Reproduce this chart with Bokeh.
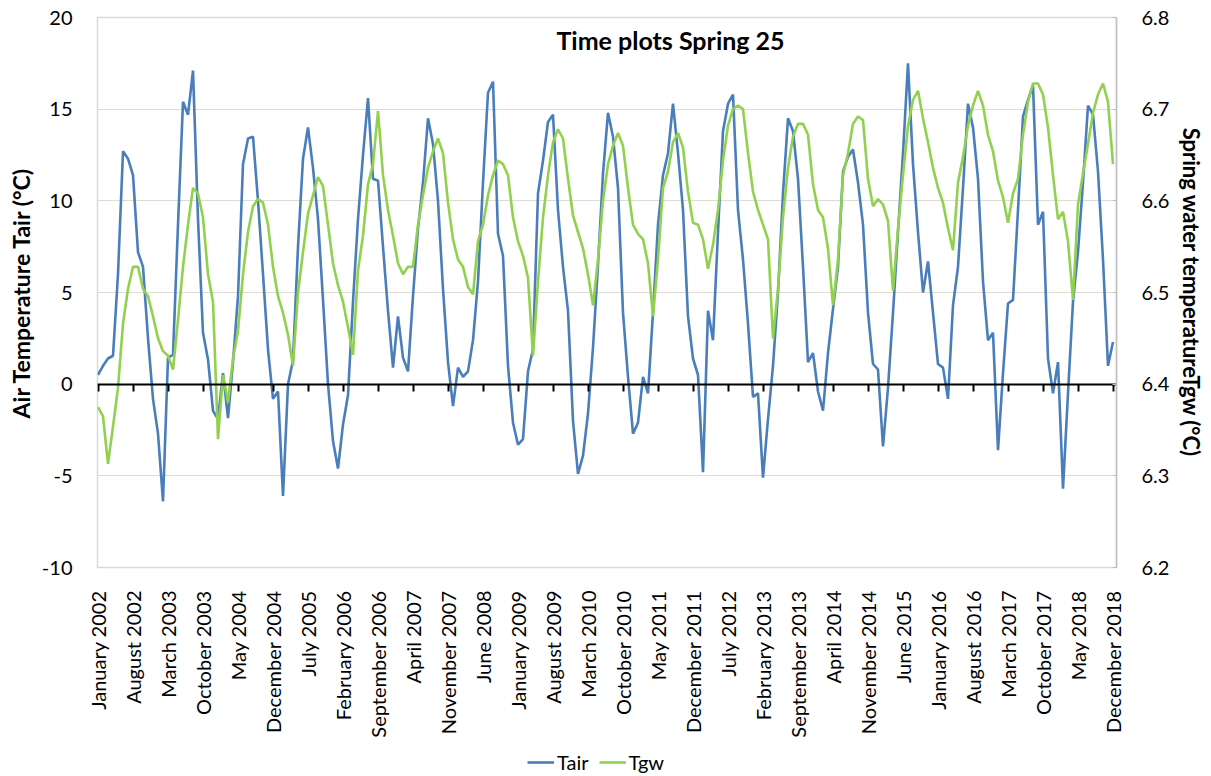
from math import pi
from bokeh.plotting import figure
from bokeh.layouts import column
from bokeh.models import (Range1d, LinearAxis, FixedTicker, Label, Legend, LegendItem,
                          NumeralTickFormatter)
from bokeh.embed import file_html
from bokeh.resources import INLINE

# Monthly series, January 2002 .. December 2018 (204 months)
tair = [0.5, 1.0, 1.4, 1.55, 6.0, 12.7, 12.3, 11.4, 7.2, 6.4, 2.5, -0.8,
        -2.7, -6.4, 1.45, 1.6, 8.7, 15.4, 14.7, 17.1, 9.0, 2.8, 1.35, -1.45,
        -1.9, 0.6, -1.85, 1.2, 4.8, 12.0, 13.4, 13.5, 10.0, 6.0, 1.9, -0.8,
        -0.4, -6.1, 0.0, 1.3, 7.5, 12.3, 14.0, 11.8, 9.0, 4.6, 0.0, -3.1,
        -4.6, -2.2, -0.6, 4.5, 9.0, 12.5, 15.6, 11.2, 11.1, 7.5, 4.0, 0.9,
        3.7, 1.45, 0.7, 4.8, 8.5, 11.0, 14.5, 13.1, 10.0, 5.2, 1.2, -1.2,
        0.9, 0.4, 0.7, 2.4, 5.6, 11.0, 15.9, 16.5, 8.2, 7.0, 1.0, -2.1,
        -3.3, -3.0, 0.7, 1.9, 10.4, 12.2, 14.3, 14.7, 9.5, 6.4, 4.0, -2.0,
        -4.9, -3.9, -1.6, 2.0, 6.5, 11.5, 14.8, 13.5, 10.7, 3.9, 0.4, -2.7,
        -2.1, 0.4, -0.5, 3.9, 8.7, 11.4, 12.6, 15.3, 12.6, 9.5, 3.7, 1.4,
        0.5, -4.8, 4.0, 2.4, 8.3, 13.8, 15.3, 15.8, 9.5, 6.8, 3.3, -0.7,
        -0.5, -5.1, -1.9, 1.0, 5.0, 10.4, 14.5, 13.8, 11.2, 6.4, 1.2, 1.7,
        -0.4, -1.45, 1.7, 4.1, 6.4, 11.6, 12.4, 12.8, 11.0, 8.7, 3.9, 1.1,
        0.8, -3.4, -0.2, 3.9, 8.3, 12.6, 17.5, 12.0, 8.3, 5.0, 6.7, 3.9,
        1.1, 0.9, -0.8, 4.3, 6.4, 10.7, 15.3, 14.0, 11.2, 5.6, 2.4, 2.8,
        -3.6, 0.6, 4.4, 4.6, 9.5, 14.6, 15.5, 16.3, 8.7, 9.4, 1.4, -0.5,
        1.2, -5.7, -0.5, 4.5, 7.2, 11.0, 15.2, 14.7, 11.6, 6.8, 1.0, 2.3]

tgw = [6.375, 6.365, 6.313, 6.354, 6.396, 6.466, 6.504, 6.528, 6.528, 6.504, 6.496, 6.474,
       6.450, 6.436, 6.431, 6.416, 6.470, 6.528, 6.574, 6.614, 6.608, 6.582, 6.520, 6.490,
       6.340, 6.410, 6.380, 6.428, 6.458, 6.520, 6.566, 6.594, 6.602, 6.598, 6.574, 6.528,
       6.496, 6.478, 6.454, 6.420, 6.500, 6.544, 6.586, 6.606, 6.626, 6.616, 6.574, 6.532,
       6.508, 6.490, 6.462, 6.432, 6.524, 6.562, 6.618, 6.640, 6.698, 6.628, 6.590, 6.562,
       6.532, 6.520, 6.528, 6.528, 6.574, 6.606, 6.636, 6.654, 6.668, 6.652, 6.598, 6.558,
       6.536, 6.528, 6.506, 6.498, 6.556, 6.574, 6.606, 6.628, 6.644, 6.640, 6.628, 6.582,
       6.556, 6.540, 6.516, 6.431, 6.512, 6.582, 6.628, 6.664, 6.678, 6.668, 6.624, 6.584,
       6.566, 6.548, 6.520, 6.486, 6.536, 6.600, 6.640, 6.660, 6.674, 6.660, 6.614, 6.574,
       6.564, 6.558, 6.532, 6.474, 6.536, 6.614, 6.632, 6.664, 6.674, 6.658, 6.610, 6.576,
       6.574, 6.558, 6.526, 6.552, 6.590, 6.644, 6.682, 6.700, 6.704, 6.700, 6.652, 6.610,
       6.590, 6.574, 6.558, 6.450, 6.504, 6.582, 6.636, 6.670, 6.684, 6.684, 6.672, 6.618,
       6.590, 6.582, 6.548, 6.486, 6.536, 6.628, 6.652, 6.684, 6.692, 6.688, 6.624, 6.594,
       6.602, 6.596, 6.578, 6.502, 6.570, 6.628, 6.682, 6.710, 6.720, 6.690, 6.664, 6.636,
       6.614, 6.598, 6.570, 6.546, 6.620, 6.648, 6.682, 6.704, 6.720, 6.704, 6.672, 6.654,
       6.622, 6.604, 6.576, 6.608, 6.624, 6.672, 6.708, 6.728, 6.728, 6.716, 6.680, 6.628,
       6.580, 6.588, 6.556, 6.492, 6.596, 6.630, 6.662, 6.696, 6.716, 6.728, 6.708, 6.640]

month_idx = list(range(len(tair)))

tick_labels = ["January 2002", "August 2002", "March 2003", "October 2003", "May 2004",
               "December 2004", "July 2005", "February 2006", "September 2006", "April 2007",
               "November 2007", "June 2008", "January 2009", "August 2009", "March 2010",
               "October 2010", "May 2011", "December 2011", "July 2012", "February 2013",
               "September 2013", "April 2014", "November 2014", "June 2015", "January 2016",
               "August 2016", "March 2017", "October 2017", "May 2018", "December 2018"]
tick_step = 7
tick_pos = [i * tick_step for i in range(len(tick_labels))]

left_ticks = [-10, -5, 0, 5, 10, 15, 20]
right_ticks = [6.2, 6.3, 6.4, 6.5, 6.6, 6.7, 6.8]
series_names = ["Tair", "Tgw"]

FONT = "Lato"
BLUE = "#4A7EBB"
GREEN = "#92D050"

p = figure(width=1210, height=740,
           x_range=Range1d(-0.1, 203.7), y_range=Range1d(-10, 20),
           output_backend="svg", toolbar_location=None,
           min_border_left=97, min_border_right=94, min_border_top=17,
           min_border_bottom=172)
p.extra_y_ranges = {"tgw": Range1d(6.2, 6.8)}
p.background_fill_color = "white"
p.border_fill_color = "white"
p.outline_line_color = "#d9d9d9"
p.outline_line_width = 1.5

# grid
p.xgrid.visible = False
p.ygrid.ticker = FixedTicker(ticks=left_ticks)
p.ygrid.grid_line_color = "#dedcd3"
p.ygrid.grid_line_width = 1.2

# left axis
ya = p.yaxis[0]
ya.ticker = FixedTicker(ticks=left_ticks)
ya.major_label_overrides = {t: str(t) for t in left_ticks}
ya.axis_line_color = None
ya.major_tick_line_color = None
ya.minor_tick_line_color = None
ya.major_label_standoff = 19
ya.major_label_text_font = FONT
ya.major_label_text_font_size = "20px"
ya.major_label_text_color = "black"
ya.axis_label = "Air Temperature Tair (°C)"
ya.axis_label_text_font = FONT
ya.axis_label_text_font_size = "23px"
ya.axis_label_text_font_style = "bold"
ya.axis_label_text_color = "black"
ya.axis_label_standoff = 4

# right axis
ra = LinearAxis(y_range_name="tgw", ticker=FixedTicker(ticks=right_ticks),
                formatter=NumeralTickFormatter(format="0.0"))
ra.axis_line_color = "#bfbfbf"
ra.axis_line_width = 1.5
ra.major_tick_in = 4
ra.major_tick_out = 0
ra.major_tick_line_color = "#bfbfbf"
ra.minor_tick_line_color = None
ra.major_label_standoff = 25
ra.major_label_text_font = FONT
ra.major_label_text_font_size = "20px"
ra.major_label_text_color = "black"
ra.axis_label = "Spring water temperatureTgw (°C)"
ra.axis_label_text_font = FONT
ra.axis_label_text_font_size = "22px"
ra.axis_label_text_font_style = "bold"
ra.axis_label_text_color = "black"
ra.axis_label_standoff = 6
p.add_layout(ra, "right")

# bottom axis (labels only)
xa = p.xaxis[0]
xa.ticker = FixedTicker(ticks=tick_pos)
xa.major_label_overrides = {t: lab for t, lab in zip(tick_pos, tick_labels)}
xa.major_label_orientation = pi / 2
xa.axis_line_color = None
xa.major_tick_line_color = None
xa.minor_tick_line_color = None
xa.major_label_standoff = 17
xa.major_label_text_font = FONT
xa.major_label_text_font_size = "20px"
xa.major_label_text_color = "black"

# zero-crossing axis line with ticks (no labels)
za = LinearAxis(fixed_location=0, ticker=FixedTicker(ticks=tick_pos))
za.axis_line_color = "black"
za.axis_line_width = 2
za.major_tick_line_color = "black"
za.major_tick_line_width = 2
za.major_tick_in = 7
za.major_tick_out = 0
za.minor_tick_line_color = None
za.major_label_text_color = None
za.major_label_text_font_size = "1px"
za.major_label_standoff = 0
p.add_layout(za, "above")

r1 = p.line(month_idx, tair, line_color=BLUE, line_width=2.6)
r2 = p.line(month_idx, tgw, line_color=GREEN, line_width=2.6, y_range_name="tgw")

title = Label(x=573, y=528, x_units="screen", y_units="screen",
              text="Time plots Spring 25", text_font=FONT, text_font_size="25px",
              text_font_style="bold", text_align="center", text_baseline="middle",
              text_color="black")
p.add_layout(title)

# legend strip below the chart (series drawn out of view, only legend shows)
lg = figure(width=1210, height=35, x_range=Range1d(0, 1), y_range=Range1d(1000, 1001),
            output_backend="svg", toolbar_location=None,
            x_axis_location=None, y_axis_location=None,
            min_border_left=0, min_border_right=0, min_border_top=0, min_border_bottom=0)
lg.grid.visible = False
lg.outline_line_color = None
l1 = lg.line(month_idx, tair, line_color=BLUE, line_width=2.6)
l2 = lg.line(month_idx, tgw, line_color=GREEN, line_width=2.6)
legend = Legend(items=[LegendItem(label=series_names[0], renderers=[l1]),
                       LegendItem(label=series_names[1], renderers=[l2])],
                orientation="horizontal", location=(430, 1))
legend.label_text_font = FONT
legend.label_text_font_size = "20px"
legend.label_text_color = "black"
legend.border_line_color = None
legend.background_fill_alpha = 0
legend.glyph_width = 27
legend.label_standoff = 3
legend.spacing = 10
legend.padding = 3
legend.margin = 0
lg.add_layout(legend, "center")

layout = column(p, lg, spacing=0)

open("out.html", "w").write(file_html(layout, INLINE))
